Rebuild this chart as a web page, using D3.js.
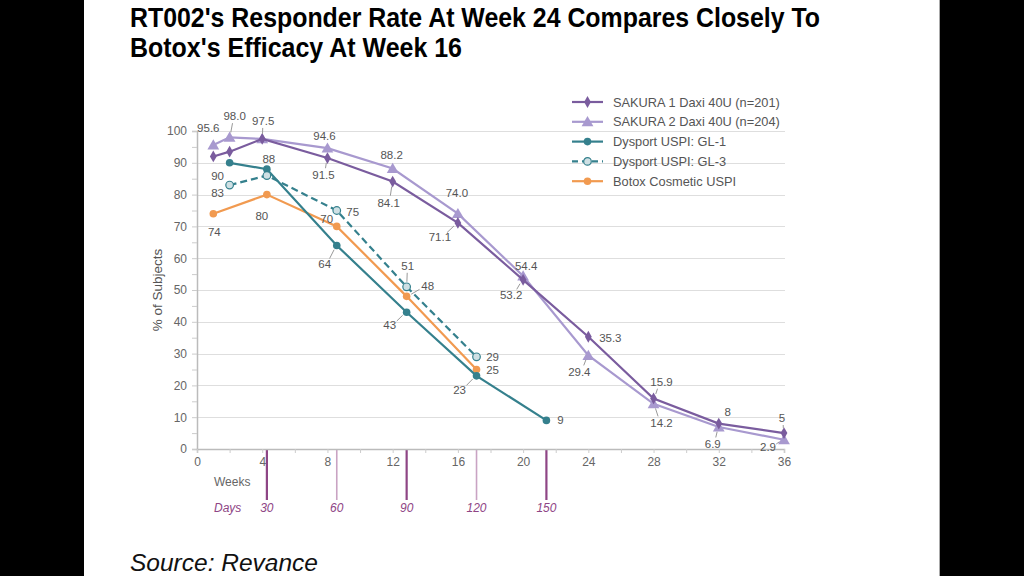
<!DOCTYPE html>
<html><head><meta charset="utf-8">
<script src="https://cdn.jsdelivr.net/npm/d3@7/dist/d3.min.js"></script>
<style>
html,body{margin:0;padding:0;background:#000;}
svg{display:block;font-family:"Liberation Sans",Arial,sans-serif;}
</style></head>
<body>
<svg id="chart" width="1024" height="576"></svg>
<script>
// ---------- DATA ----------
const titleLines = ["RT002's Responder Rate At Week 24 Compares Closely To", "Botox's Efficacy At Week 16"];
const sourceText = "Source: Revance";
const yLabel = "% of Subjects";

const sakura1Weeks = [1, 2, 4, 8, 12, 16, 20, 24, 28, 32, 36];
const sakura1Values = [92, 93.5, 97.5, 91.5, 84.1, 71.1, 53.2, 35.3, 15.9, 8, 5];
const sakura1Labels = [null, null, null, "91.5", "84.1", "71.1", "53.2", "35.3", "15.9", "8", "5"];

const sakura2Weeks = [1, 2, 4, 8, 12, 16, 20, 24, 28, 32, 36];
const sakura2Values = [95.6, 98.0, 97.5, 94.6, 88.2, 74.0, 54.4, 29.4, 14.2, 6.9, 2.9];
const sakura2Labels = ["95.6", "98.0", "97.5", "94.6", "88.2", "74.0", "54.4", "29.4", "14.2", "6.9", "2.9"];

const gl1Days = [14, 30, 60, 90, 120, 150];
const gl1Values = [90, 88, 64, 43, 23, 9];
const gl1Labels = ["90", "88", "64", "43", "23", "9"];

const gl3Days = [14, 30, 60, 90, 120];
const gl3Values = [83, 86, 75, 51, 29];
const gl3Labels = ["83", null, "75", "51", "29"];

const botoxDays = [7, 30, 60, 90, 120];
const botoxValues = [74, 80, 70, 48, 25];
const botoxLabels = ["74", "80", "70", "48", "25"];

const weekTicks = [0, 4, 8, 12, 16, 20, 24, 28, 32, 36];
const dayTicks = [30, 60, 90, 120, 150];
const yTicks = [0, 10, 20, 30, 40, 50, 60, 70, 80, 90, 100];

const legendNames = ["SAKURA 1 Daxi 40U (n=201)", "SAKURA 2 Daxi 40U (n=204)", "Dysport USPI: GL-1", "Dysport USPI: GL-3", "Botox Cosmetic USPI"];

// ---------- LAYOUT / STYLE ----------
// label placement: [dx, dy, leader]
const sakura1LabelPos = [null, null, null, [-4,17,1], [-4,21,1], [-18,14,1], [-12,15,1], [22,1,0], [8,-16,1], [9,-12,0], [-2,-15,1]];
const sakura2LabelPos = [[-5,-17,0], [5,-21,1], [1,-18,1], [-3,-12,0], [-1,-14,0], [-1,-21,0], [3,-10,0], [-9,16,1], [8,19,1], [-6,17,1], [-16,7,1]];
const gl1LabelPos = [[-12,13,0], [2,-10,0], [-12,19,1], [-17,13,1], [-17,14,1], [14,0,0]];
const gl3LabelPos = [[-12,8,0], null, [16,1,0], [1,-21,1], [16,0,0]];
const botoxLabelPos = [[1,18,0], [-5,21,0], [-10,-7,0], [21,-10,1], [16,0,0]];

const svg = d3.select("#chart");
svg.append("rect").attr("x", 0).attr("y", 0).attr("width", 1024).attr("height", 576).attr("fill", "#000");
svg.append("rect").attr("x", 84).attr("y", 0).attr("width", 856).attr("height", 576).attr("fill", "#fff");
svg.append("line").attr("x1", 939.5).attr("x2", 939.5).attr("y1", 0).attr("y2", 576).attr("stroke", "#aaa").attr("stroke-width", 1);

const x = d3.scaleLinear().domain([0, 36]).range([197, 784]);
const y = d3.scaleLinear().domain([0, 100]).range([449, 131]);

const grey = "#666";
const labelColor = "#555";

// title
svg.append("g").selectAll("text").data(titleLines).join("text")
  .attr("x", 130).attr("y", (d, i) => 27 + i * 30)
  .attr("font-size", 27).attr("font-weight", "bold").attr("fill", "#000")
  .attr("textLength", (d, i) => i === 0 ? 690 : 332).attr("lengthAdjust", "spacingAndGlyphs")
  .text(d => d);

// source
svg.append("text").attr("x", 130).attr("y", 571).attr("font-size", 24.5).attr("font-style", "italic")
  .attr("fill", "#111").text(sourceText);

// gridlines
svg.append("g").selectAll("line").data(yTicks.filter(d => d > 0)).join("line")
  .attr("x1", x(0)).attr("x2", x(36) + 1).attr("y1", d => Math.round(y(d)) + 0.5).attr("y2", d => Math.round(y(d)) + 0.5)
  .attr("stroke", "#dedede").attr("stroke-width", 1);

// y axis
const yAxis = d3.axisLeft(y).tickValues(d3.range(0, 101, 5)).tickSize(5)
  .tickFormat(d => d % 10 === 0 ? d : "");
const gy = svg.append("g").attr("transform", `translate(${x(0)},0)`).call(yAxis);
gy.select(".domain").attr("stroke", "#bbb").attr("stroke-width", 1.5);
gy.selectAll(".tick line").attr("stroke", "#ccc");
gy.selectAll(".tick text").attr("fill", grey).attr("font-size", 12).attr("x", -10)
  .attr("font-family", "Liberation Sans, Arial, sans-serif");

svg.append("text").attr("transform", `translate(158,${y(50)}) rotate(-90)`).attr("text-anchor", "middle")
  .attr("dominant-baseline", "middle").attr("font-size", 13.5).attr("fill", "#555").text(yLabel);

// day lines
svg.append("g").selectAll("line").data(dayTicks).join("line")
  .attr("x1", d => x(d / 7)).attr("x2", d => x(d / 7)).attr("y1", y(0)).attr("y2", 500)
  .attr("stroke", (d, i) => i % 2 === 0 ? "#8e4585" : "#c9a3c3")
  .attr("stroke-width", (d, i) => i % 2 === 0 ? 2.2 : 1.6);

// x axis
const xAxis = d3.axisBottom(x).tickValues(d3.range(0, 37, 2)).tickSize(4)
  .tickFormat(d => weekTicks.includes(d) ? d : "");
const gx = svg.append("g").attr("transform", `translate(0,${y(0)})`).call(xAxis);
gx.select(".domain").attr("stroke", "#bbb").attr("stroke-width", 1.5);
gx.selectAll(".tick line").attr("stroke", "#ccc");
gx.selectAll(".tick text").attr("fill", grey).attr("font-size", 12).attr("y", 8)
  .attr("font-family", "Liberation Sans, Arial, sans-serif");

svg.append("text").attr("x", 214).attr("y", 486).attr("font-size", 12).attr("fill", grey).text("Weeks");
svg.append("text").attr("x", 214).attr("y", 512).attr("font-size", 12).attr("fill", "#8e4585")
  .attr("font-style", "italic").text("Days");
svg.append("g").selectAll("text").data(dayTicks).join("text")
  .attr("x", d => x(d / 7)).attr("y", 512).attr("text-anchor", "middle")
  .attr("font-size", 12).attr("font-style", "italic").attr("fill", "#8e4585").text(d => d);

// series
const series = [
  {name: legendNames[0], xs: sakura1Weeks, ys: sakura1Values, labels: sakura1Labels, pos: sakura1LabelPos, color: "#7a5c9e", marker: "diamond", dash: null},
  {name: legendNames[1], xs: sakura2Weeks, ys: sakura2Values, labels: sakura2Labels, pos: sakura2LabelPos, color: "#a899cf", marker: "triangle", dash: null},
  {name: legendNames[2], xs: gl1Days.map(d => d / 7), ys: gl1Values, labels: gl1Labels, pos: gl1LabelPos, color: "#35808d", marker: "circle", dash: null},
  {name: legendNames[3], xs: gl3Days.map(d => d / 7), ys: gl3Values, labels: gl3Labels, pos: gl3LabelPos, color: "#35808d", marker: "open", dash: "7,4"},
  {name: legendNames[4], xs: botoxDays.map(d => d / 7), ys: botoxValues, labels: botoxLabels, pos: botoxLabelPos, color: "#f19a50", marker: "circle", dash: null}
];

const line = d3.line().x(d => x(d[0])).y(d => y(d[1]));

function drawMarker(g, s, cx, cy) {
  if (s.marker === "diamond") {
    g.append("path").attr("d", d3.symbol(d3.symbolDiamond, 40)()).attr("transform", `translate(${cx},${cy})`).attr("fill", s.color);
  } else if (s.marker === "triangle") {
    g.append("path").attr("d", d3.symbol(d3.symbolTriangle, 60)()).attr("transform", `translate(${cx},${cy + 1})`).attr("fill", s.color);
  } else if (s.marker === "circle") {
    g.append("circle").attr("cx", cx).attr("cy", cy).attr("r", 3.8).attr("fill", s.color);
  } else {
    g.append("circle").attr("cx", cx).attr("cy", cy).attr("r", 3.8).attr("fill", "#cfe0e4").attr("stroke", s.color).attr("stroke-width", 1.2);
  }
}

// draw lines (bottom to top order)
const drawOrder = [4, 2, 3, 1, 0];
drawOrder.forEach(i => {
  const s = series[i];
  const pts = s.xs.map((v, j) => [v, s.ys[j]]);
  svg.append("path").attr("d", line(pts)).attr("fill", "none").attr("stroke", s.color)
    .attr("stroke-width", 2.2).attr("stroke-dasharray", s.dash);
  const g = svg.append("g");
  pts.forEach(p => drawMarker(g, s, x(p[0]), y(p[1])));
});

// labels
const lg = svg.append("g");
series.forEach(s => {
  s.labels.forEach((lab, j) => {
    if (!lab || !s.pos[j]) return;
    const [dx, dy, leader] = s.pos[j];
    const px = x(s.xs[j]), py = y(s.ys[j]);
    const lx = px + dx, ly = py + dy;
    if (leader) {
      const len = Math.hypot(dx, dy);
      const ux = dx / len, uy = dy / len;
      lg.append("line").attr("x1", px + ux * 5).attr("y1", py + uy * 5)
        .attr("x2", lx - ux * 9).attr("y2", ly - uy * 7)
        .attr("stroke", "#999").attr("stroke-width", 1);
    }
    lg.append("text").attr("x", lx).attr("y", ly).attr("text-anchor", "middle")
      .attr("dominant-baseline", "central").attr("font-size", 11.5).attr("fill", labelColor).text(lab);
  });
});

// legend
const leg = svg.append("g").attr("transform", "translate(572,102)");
series.forEach((s, i) => {
  const g = leg.append("g").attr("transform", `translate(0,${i * 19.8})`);
  g.append("line").attr("x1", 0).attr("x2", 31).attr("y1", 0).attr("y2", 0)
    .attr("stroke", s.color).attr("stroke-width", 2.2).attr("stroke-dasharray", s.dash ? "6,4" : null);
  drawMarker(g, s, 15.5, 0);
  g.append("text").attr("x", 41).attr("y", 0).attr("dominant-baseline", "central")
    .attr("font-size", 12.8).attr("fill", "#555").text(s.name);
});
</script>
</body></html>
